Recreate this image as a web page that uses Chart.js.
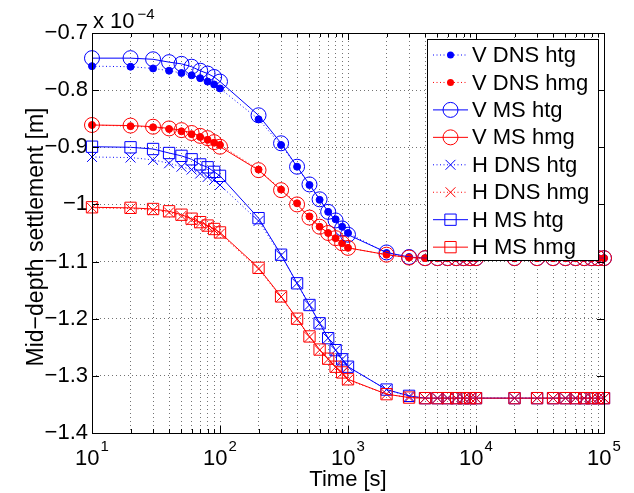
<!DOCTYPE html>
<html>
<head>
<meta charset="utf-8">
<script src="https://cdn.jsdelivr.net/npm/chart.js@4.4.0/dist/chart.umd.min.js"></script>
<style>
  html, body { margin: 0; padding: 0; background: #fff; }
  #wrap { width: 634px; height: 493px; }
</style>
</head>
<body>
<div id="wrap"><canvas id="chart" width="634" height="493"></canvas></div>
<script>
// time samples [s]
const times = [10, 20, 30, 40, 50, 60, 70, 80, 90, 100,
  200, 300, 400, 500, 600, 700, 800, 900, 1000,
  2000, 3000, 4000, 5000, 6000, 7000, 8000, 9000, 10000,
  20000, 30000, 40000, 50000, 60000, 70000, 80000, 90000, 100000];

// mid-depth settlement, in units of 1e-4 m
const vDnsHtg = [-0.758, -0.759, -0.762, -0.766, -0.770, -0.774, -0.779, -0.785, -0.790, -0.797,
  -0.851, -0.896, -0.934, -0.966, -0.992, -1.013, -1.026, -1.039, -1.050,
  -1.085, -1.092, -1.094, -1.094, -1.094, -1.094, -1.094, -1.094, -1.094,
  -1.094, -1.094, -1.094, -1.094, -1.094, -1.094, -1.094, -1.094, -1.094];
const vDnsHmg = [-0.861, -0.863, -0.865, -0.868, -0.872, -0.877, -0.882, -0.887, -0.892, -0.896,
  -0.939, -0.974, -0.998, -1.021, -1.039, -1.050, -1.059, -1.068, -1.076,
  -1.088, -1.093, -1.094, -1.094, -1.094, -1.094, -1.094, -1.094, -1.094,
  -1.094, -1.094, -1.094, -1.094, -1.094, -1.094, -1.094, -1.094, -1.094];
const vMsHtg = [-0.744, -0.744, -0.746, -0.751, -0.754, -0.759, -0.766, -0.771, -0.777, -0.785,
  -0.844, -0.893, -0.934, -0.965, -0.991, -1.013, -1.028, -1.042, -1.053,
  -1.084, -1.092, -1.094, -1.094, -1.094, -1.094, -1.094, -1.094, -1.094,
  -1.094, -1.094, -1.094, -1.094, -1.094, -1.094, -1.094, -1.094, -1.094];
const vMsHmg = [-0.861, -0.862, -0.864, -0.867, -0.870, -0.875, -0.880, -0.884, -0.891, -0.899,
  -0.940, -0.975, -1.000, -1.023, -1.039, -1.050, -1.059, -1.068, -1.076,
  -1.088, -1.093, -1.094, -1.094, -1.094, -1.094, -1.094, -1.094, -1.094,
  -1.094, -1.094, -1.094, -1.094, -1.094, -1.094, -1.094, -1.094, -1.094];
const hDnsHtg = [-0.917, -0.918, -0.922, -0.928, -0.934, -0.939, -0.946, -0.952, -0.957, -0.966,
  -1.029, -1.089, -1.138, -1.176, -1.208, -1.234, -1.255, -1.271, -1.284,
  -1.324, -1.336, -1.339, -1.339, -1.339, -1.339, -1.339, -1.339, -1.339,
  -1.339, -1.339, -1.339, -1.339, -1.339, -1.339, -1.339, -1.339, -1.339];
const hDnsHmg = [-1.006, -1.007, -1.010, -1.014, -1.020, -1.027, -1.033, -1.039, -1.045, -1.051,
  -1.113, -1.162, -1.201, -1.232, -1.255, -1.271, -1.285, -1.295, -1.307,
  -1.332, -1.338, -1.339, -1.339, -1.339, -1.339, -1.339, -1.339, -1.339,
  -1.339, -1.339, -1.339, -1.339, -1.339, -1.339, -1.339, -1.339, -1.339];
const hMsHtg = [-0.899, -0.900, -0.903, -0.910, -0.915, -0.921, -0.930, -0.935, -0.943, -0.950,
  -1.024, -1.088, -1.138, -1.176, -1.208, -1.234, -1.255, -1.271, -1.284,
  -1.324, -1.335, -1.339, -1.339, -1.339, -1.339, -1.339, -1.339, -1.339,
  -1.339, -1.339, -1.339, -1.339, -1.339, -1.339, -1.339, -1.339, -1.339];
const hMsHmg = [-1.005, -1.006, -1.008, -1.012, -1.018, -1.025, -1.031, -1.037, -1.043, -1.049,
  -1.111, -1.161, -1.200, -1.231, -1.254, -1.270, -1.284, -1.294, -1.306,
  -1.332, -1.338, -1.339, -1.339, -1.339, -1.339, -1.339, -1.339, -1.339,
  -1.339, -1.339, -1.339, -1.339, -1.339, -1.339, -1.339, -1.339, -1.339];

const seriesNames = ['V DNS htg', 'V DNS hmg', 'V MS htg', 'V MS hmg',
  'H DNS htg', 'H DNS hmg', 'H MS htg', 'H MS hmg'];
const seriesValues = [vDnsHtg, vDnsHmg, vMsHtg, vMsHmg, hDnsHtg, hDnsHmg, hMsHtg, hMsHmg];

// axis ticks
const yTicks = [-1.4, -1.3, -1.2, -1.1, -1.0, -0.9, -0.8, -0.7];
const yTickLabels = ['\u22121.4', '\u22121.3', '\u22121.2', '\u22121.1', '\u22121', '\u22120.9', '\u22120.8', '\u22120.7'];
const xDecades = [10, 100, 1000, 10000, 100000];
const xTickExponents = ['1', '2', '3', '4', '5'];
const yMultiplier = ['x 10', '\u22124'];
const xTitle = 'Time [s]';
const yTitle = 'Mid\u2212depth settlement [m]';

const FONT = '"Liberation Sans", Arial, Helvetica, sans-serif';
const BLUE = '#0000ff', RED = '#ff0000';
const GRID = 'rgba(0,0,0,0.55)';

// look of each series: [colour, marker, dotted line?]
const styles = [
  { color: BLUE, marker: 'dot', dotted: true },
  { color: RED, marker: 'dot', dotted: true },
  { color: BLUE, marker: 'circle', dotted: false },
  { color: RED, marker: 'circle', dotted: false },
  { color: BLUE, marker: 'x', dotted: true },
  { color: RED, marker: 'x', dotted: true },
  { color: BLUE, marker: 'square', dotted: false },
  { color: RED, marker: 'square', dotted: false }
];
const markerStyle = { dot: 'circle', circle: 'circle', x: 'crossRot', square: 'rect' };
const markerRadius = { dot: 3.5, circle: 7.5, x: 7, square: 8 };

// minor + major grid positions on the log axis
const xGrid = [];
xDecades.forEach(d => {
  for (let k = 1; k <= 9; k++) {
    if (d * k <= 100000) xGrid.push(d * k);
  }
});

const datasets = seriesValues.map((vals, i) => {
  const st = styles[i];
  return {
    label: seriesNames[i],
    data: times.map((t, j) => ({ x: t, y: vals[j] })),
    borderColor: st.color,
    borderWidth: 1,
    borderDash: st.dotted ? [1, 2.5] : [],
    pointStyle: markerStyle[st.marker],
    pointRadius: markerRadius[st.marker],
    pointBorderWidth: 1,
    pointBorderColor: st.color,
    pointBackgroundColor: st.marker === 'dot' ? st.color : 'rgba(0,0,0,0)',
    tension: 0,
    fill: false,
    clip: false,
    order: seriesNames.length - i // later series on top, like the original
  };
});

function drawMarker(c, st, x, y) {
  const r = markerRadius[st.marker];
  c.save();
  c.setLineDash([]);
  c.lineWidth = 1;
  c.strokeStyle = st.color;
  c.fillStyle = st.color;
  c.beginPath();
  if (st.marker === 'dot') {
    c.arc(x, y, r, 0, Math.PI * 2);
    c.fill();
  } else if (st.marker === 'circle') {
    c.arc(x, y, r, 0, Math.PI * 2);
    c.stroke();
  } else if (st.marker === 'square') {
    const h = r * Math.SQRT1_2;
    c.rect(x - h, y - h, 2 * h, 2 * h);
    c.stroke();
  } else {
    const h = r * Math.SQRT1_2;
    c.moveTo(x - h, y - h); c.lineTo(x + h, y + h);
    c.moveTo(x + h, y - h); c.lineTo(x - h, y + h);
    c.stroke();
  }
  c.restore();
}

// axes box, inward ticks, tick labels, titles and the legend
const frame = {
  id: 'frame',
  afterDraw(chart) {
    const c = chart.ctx;
    const a = chart.chartArea;
    const xs = chart.scales.x, ys = chart.scales.y;
    c.save();
    c.strokeStyle = '#000';
    c.lineWidth = 1;
    c.setLineDash([]);
    c.strokeRect(Math.round(a.left) + 0.5, Math.round(a.top) + 0.5,
      Math.round(a.right - a.left), Math.round(a.bottom - a.top));

    // tick marks
    c.beginPath();
    xGrid.forEach(v => {
      const px = Math.round(xs.getPixelForValue(v)) + 0.5;
      const len = xDecades.includes(v) ? 7 : 4;
      c.moveTo(px, a.bottom); c.lineTo(px, a.bottom - len);
      c.moveTo(px, a.top); c.lineTo(px, a.top + len);
    });
    yTicks.forEach(v => {
      const py = Math.round(ys.getPixelForValue(v)) + 0.5;
      c.moveTo(a.left, py); c.lineTo(a.left + 7, py);
      c.moveTo(a.right, py); c.lineTo(a.right - 7, py);
    });
    c.stroke();

    // x tick labels 10^n
    c.fillStyle = '#000';
    c.textBaseline = 'alphabetic';
    c.textAlign = 'left';
    xDecades.forEach((v, i) => {
      const px = xs.getPixelForValue(v);
      c.font = '22px ' + FONT;
      const wb = c.measureText('10').width;
      c.font = '15px ' + FONT;
      const we = c.measureText(xTickExponents[i]).width;
      const left = px - (wb + we + 1) / 2;
      c.font = '22px ' + FONT;
      c.fillText('10', left, a.bottom + 32);
      c.font = '15px ' + FONT;
      c.fillText(xTickExponents[i], left + wb + 1, a.bottom + 18);
    });

    // multiplier above the y axis
    c.font = '22px ' + FONT;
    c.fillText(yMultiplier[0], a.left + 1, a.top - 5);
    const wm = c.measureText(yMultiplier[0]).width;
    c.font = '15px ' + FONT;
    c.fillText(yMultiplier[1], a.left + 1 + wm + 3, a.top - 14);

    // axis titles
    c.font = '22px ' + FONT;
    c.textAlign = 'center';
    c.fillText(xTitle, (a.left + a.right) / 2, a.bottom + 53);
    c.save();
    c.translate(43, (a.top + a.bottom) / 2 + 4);
    c.rotate(-Math.PI / 2);
    c.font = '23px ' + FONT;
    c.fillText(yTitle, 0, 0);
    c.restore();

    // legend box
    const lx = 427, ly = 39, lw = 171, lh = 221;
    c.fillStyle = '#fff';
    c.fillRect(lx, ly, lw, lh);
    c.strokeStyle = '#000';
    c.strokeRect(lx + 0.5, ly + 0.5, lw, lh);
    c.font = '22px ' + FONT;
    c.textAlign = 'left';
    c.textBaseline = 'middle';
    seriesNames.forEach((name, i) => {
      const st = styles[i];
      const y = ly + 16 + i * 27.45;
      c.save();
      c.strokeStyle = st.color;
      c.lineWidth = 1;
      c.setLineDash(st.dotted ? [1, 2.5] : []);
      c.beginPath();
      c.moveTo(lx + 6, y); c.lineTo(lx + 41, y);
      c.stroke();
      c.restore();
      drawMarker(c, st, lx + 23.5, y);
      c.fillStyle = '#000';
      c.fillText(name, lx + 45, y + 1);
    });
    c.restore();
  }
};

new Chart(document.getElementById('chart').getContext('2d'), {
  type: 'line',
  data: { datasets },
  options: {
    responsive: false,
    animation: false,
    devicePixelRatio: 1,
    layout: { padding: { top: 33, right: 30, bottom: 60, left: 0 } },
    plugins: { legend: { display: false }, tooltip: { enabled: false } },
    scales: {
      x: {
        type: 'logarithmic',
        min: 10,
        max: 100000,
        afterBuildTicks: s => { s.ticks = xGrid.map(v => ({ value: v })); },
        afterFit: s => { s.height = 0; },
        ticks: { display: false },
        grid: { color: GRID, lineWidth: 1, drawTicks: false },
        border: { display: false, dash: [1, 3] }
      },
      y: {
        type: 'linear',
        min: -1.4,
        max: -0.7,
        afterBuildTicks: s => { s.ticks = yTicks.map(v => ({ value: v })); },
        afterFit: s => { s.width = 92; },
        ticks: {
          color: '#000',
          padding: 4,
          font: { family: FONT, size: 22 },
          callback: (v, i) => yTickLabels[i]
        },
        grid: { color: GRID, lineWidth: 1, drawTicks: false },
        border: { display: false, dash: [1, 3] }
      }
    }
  },
  plugins: [frame]
});
</script>
</body>
</html>
